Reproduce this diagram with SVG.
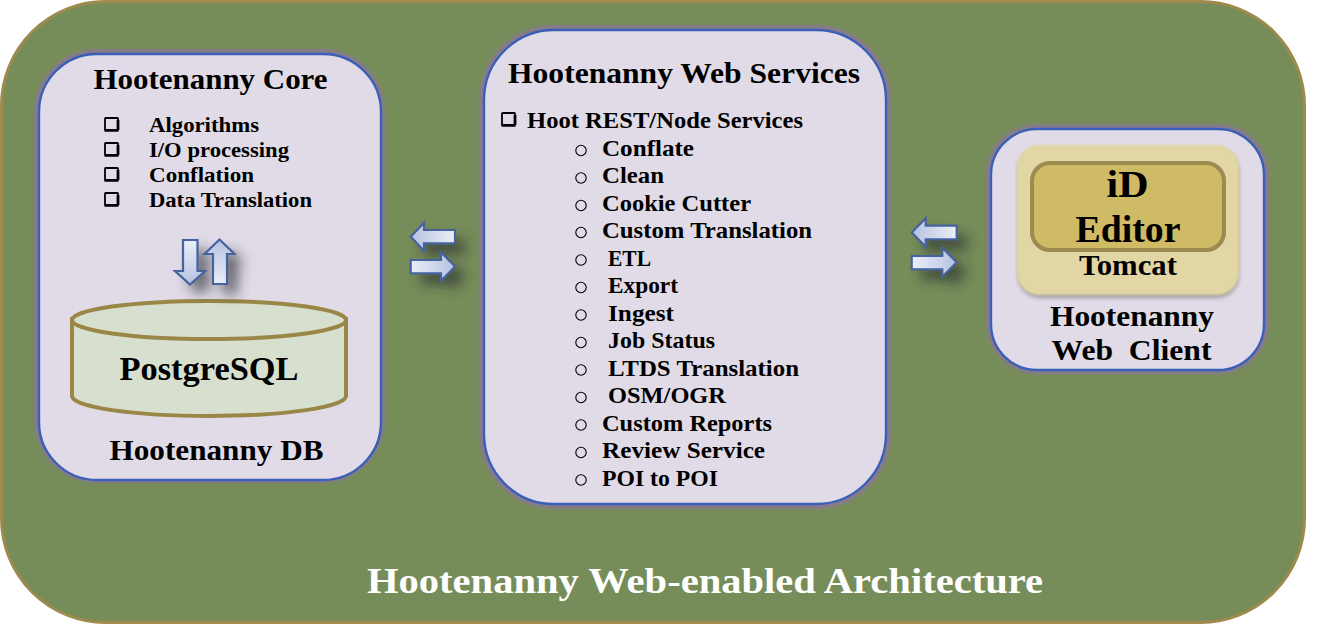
<svg xmlns="http://www.w3.org/2000/svg" width="1319" height="627" viewBox="0 0 1319 627">
<style>
text{font-family:"Liberation Serif","DejaVu Serif",serif;font-weight:700;fill:#000;white-space:pre}
.h{font-size:30px}
.l{font-size:22px}
.m{font-size:24px}
.panel{fill:#e0dbe6;stroke:#3a5fb8;stroke-width:2.400}
.halo{fill:#857a8c}
.arr{stroke:#46629f;stroke-width:2.2}
</style>
<defs>
<linearGradient id="gl" x1="0" y1="0" x2="1" y2="0"><stop offset="0" stop-color="#b4c2e0"/><stop offset="1" stop-color="#eceef8"/></linearGradient>
<linearGradient id="gr" x1="0" y1="0" x2="1" y2="0"><stop offset="0" stop-color="#eceef8"/><stop offset="1" stop-color="#b4c2e0"/></linearGradient>
<linearGradient id="gd" x1="0" y1="0" x2="0" y2="1"><stop offset="0" stop-color="#eceef8"/><stop offset="1" stop-color="#b4c2e0"/></linearGradient>
<linearGradient id="gu" x1="0" y1="0" x2="0" y2="1"><stop offset="0" stop-color="#b4c2e0"/><stop offset="1" stop-color="#eceef8"/></linearGradient>
<filter id="sh" x="-100%" y="-100%" width="300%" height="300%"><feGaussianBlur stdDeviation="7"/></filter>
<filter id="s2" x="-20%" y="-20%" width="140%" height="140%"><feGaussianBlur stdDeviation="2"/></filter>
<filter id="s3" x="-10%" y="-10%" width="120%" height="120%"><feGaussianBlur stdDeviation="0.8"/></filter>
<filter id="s4" x="-10%" y="-10%" width="120%" height="120%"><feGaussianBlur stdDeviation="0.8"/></filter>
<g id="box"><rect x="1" y="1" width="13" height="12" rx=".6" fill="none" stroke="#000" stroke-width="1.800"/><path d="M.5 13.300h14M14 3v10" fill="none" stroke="#000" stroke-width="2.800"/></g>
<g id="circ"><circle cx="0" cy="0" r="5.200" fill="none" stroke="#000" stroke-width="1.100"/></g>
<path id="a-down" d="M183 240h14.500v31h7.500l-15 13.500l-15-13.500h8z"/>
<path id="a-up" d="M213 284V254h-8.500l15-14.500l15 14.500h-7.500v30z"/>
<path id="a1" d="M455 230v13.300h-31v7.400l-13.300-14l13.300-14v7.300z"/>
<path id="a2" d="M410.700 260h30.300v-7.700l14 14.200l-14 14.200v-7.400h-30.300z"/>
<path id="a3" d="M956.700 225.700v13.600h-31v7.400l-14-14.200l14-14.200v7.400z"/>
<path id="a4" d="M911.700 256h30.600v-8.300l14.400 14.500l-14.400 14.500v-7.400h-30.600z"/>
</defs>

<rect width="1319" height="627" fill="#fff"/>
<g id="architecture">
<rect x="1.500" y="1.500" width="1303" height="621" rx="104" ry="104" fill="#778d59" stroke="#9e8a4c" stroke-width="3"/>
<text x="705" y="593" text-anchor="middle" font-size="36" style="fill:#fff" textLength="676" lengthAdjust="spacingAndGlyphs">Hootenanny Web-enabled Architecture</text>
</g>

<g id="core">
<rect class="halo" x="34" y="49" width="351" height="434" rx="63" filter="url(#s3)"/>
<rect class="panel" x="39" y="54" width="342" height="426" rx="58"/>
<text class="h" x="210.500" y="89" text-anchor="middle" textLength="234" lengthAdjust="spacingAndGlyphs">Hootenanny Core</text>
<use href="#box" x="104" y="117"/><text class="l" x="149" y="132" textLength="110" lengthAdjust="spacingAndGlyphs">Algorithms</text>
<use href="#box" x="104" y="142"/><text class="l" x="149" y="157" textLength="140" lengthAdjust="spacingAndGlyphs">I/O processing</text>
<use href="#box" x="104" y="167"/><text class="l" x="149" y="182" textLength="105" lengthAdjust="spacingAndGlyphs">Conflation</text>
<use href="#box" x="104" y="192"/><text class="l" x="149" y="207" textLength="163" lengthAdjust="spacingAndGlyphs">Data Translation</text>
</g>

<g id="db">
<path d="M72 319V396A137 20 0 0 0 346 396V319Z" fill="#d7dfce" stroke="#9a8748" stroke-width="4"/>
<ellipse cx="209" cy="320" rx="137" ry="19" fill="#d7dfce" stroke="#9a8748" stroke-width="4"/>
<text x="209" y="380" text-anchor="middle" font-size="34" textLength="179" lengthAdjust="spacingAndGlyphs">PostgreSQL</text>
<text class="h" x="216.500" y="460" text-anchor="middle" textLength="214" lengthAdjust="spacingAndGlyphs">Hootenanny DB</text>
</g>

<g id="web-services">
<rect class="halo" x="479" y="25" width="412" height="484" rx="75" filter="url(#s3)"/>
<rect class="panel" x="484" y="30" width="402" height="474" rx="70"/>
<text class="h" x="684" y="83" text-anchor="middle" textLength="352" lengthAdjust="spacingAndGlyphs">Hootenanny Web Services</text>
<use href="#box" x="501" y="112"/><text class="m" x="527" y="128" textLength="276" lengthAdjust="spacingAndGlyphs">Hoot REST/Node Services</text>
<use href="#circ" x="581" y="150.500"/><text class="m" x="602" y="156" textLength="92" lengthAdjust="spacingAndGlyphs">Conflate</text>
<use href="#circ" x="581" y="178"/><text class="m" x="602" y="183" textLength="62" lengthAdjust="spacingAndGlyphs">Clean</text>
<use href="#circ" x="581" y="205.500"/><text class="m" x="602" y="211" textLength="149" lengthAdjust="spacingAndGlyphs">Cookie Cutter</text>
<use href="#circ" x="581" y="232.500"/><text class="m" x="602" y="238" textLength="210" lengthAdjust="spacingAndGlyphs">Custom Translation</text>
<use href="#circ" x="581" y="260"/><text class="m" x="608" y="266" textLength="43" lengthAdjust="spacingAndGlyphs">ETL</text>
<use href="#circ" x="581" y="287.500"/><text class="m" x="608" y="293" textLength="70" lengthAdjust="spacingAndGlyphs">Export</text>
<use href="#circ" x="581" y="315"/><text class="m" x="608" y="321" textLength="66" lengthAdjust="spacingAndGlyphs">Ingest</text>
<use href="#circ" x="581" y="342.500"/><text class="m" x="608" y="348" textLength="107" lengthAdjust="spacingAndGlyphs">Job Status</text>
<use href="#circ" x="581" y="370"/><text class="m" x="608" y="376" textLength="191" lengthAdjust="spacingAndGlyphs">LTDS Translation</text>
<use href="#circ" x="581" y="397.500"/><text class="m" x="608" y="403" textLength="118" lengthAdjust="spacingAndGlyphs">OSM/OGR</text>
<use href="#circ" x="581" y="425"/><text class="m" x="602" y="431" textLength="170" lengthAdjust="spacingAndGlyphs">Custom Reports</text>
<use href="#circ" x="581" y="452.500"/><text class="m" x="602" y="458" textLength="163" lengthAdjust="spacingAndGlyphs">Review Service</text>
<use href="#circ" x="581" y="480"/><text class="m" x="602" y="486" textLength="116" lengthAdjust="spacingAndGlyphs">POI to POI</text>
</g>

<g id="web-client">
<rect class="halo" x="986" y="124" width="283" height="250" rx="51" filter="url(#s3)"/>
<rect class="panel" x="991" y="129" width="273" height="241" rx="46"/>
<rect x="1018" y="149" width="221" height="149" rx="22" fill="#77736f" opacity=".6" filter="url(#s2)"/>
<rect x="1017" y="145" width="222" height="150" rx="22" fill="#e2d6a4" filter="url(#s4)"/>
<rect x="1032" y="163" width="192" height="87" rx="18" fill="#cfba66" stroke="#9c8b50" stroke-width="4"/>
<text x="1127.500" y="197" text-anchor="middle" font-size="38" textLength="42" lengthAdjust="spacingAndGlyphs">iD</text>
<text x="1128" y="242" text-anchor="middle" font-size="38" textLength="105" lengthAdjust="spacingAndGlyphs">Editor</text>
<text x="1128" y="275" text-anchor="middle" font-size="29" textLength="98" lengthAdjust="spacingAndGlyphs">Tomcat</text>
<text x="1132" y="326" text-anchor="middle" font-size="30" textLength="164" lengthAdjust="spacingAndGlyphs">Hootenanny</text>
<text x="1131.500" y="360" text-anchor="middle" font-size="30" textLength="160" lengthAdjust="spacingAndGlyphs">Web  Client</text>
</g>

<g id="connectors">
<g filter="url(#sh)" fill="#23262e" opacity=".72">
<use href="#a-down" x="10" y="10"/><use href="#a-up" x="10" y="10"/>
<use href="#a1" x="10" y="10"/><use href="#a2" x="10" y="10"/>
<use href="#a3" x="10" y="10"/><use href="#a4" x="10" y="10"/>
</g>
<use href="#a-down" class="arr" fill="url(#gd)"/>
<use href="#a-up" class="arr" fill="url(#gu)"/>
<use href="#a1" class="arr" fill="url(#gl)"/>
<use href="#a2" class="arr" fill="url(#gr)"/>
<use href="#a3" class="arr" fill="url(#gl)"/>
<use href="#a4" class="arr" fill="url(#gr)"/>
</g>
</svg>
